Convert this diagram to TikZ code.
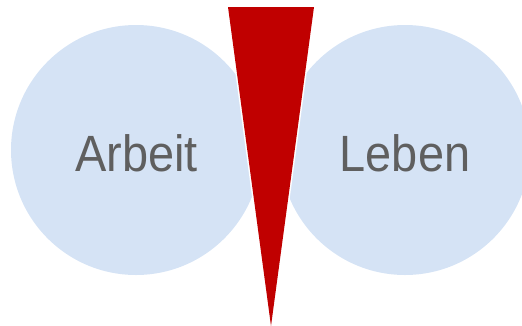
\documentclass[tikz,border=0pt]{standalone}
\usepackage{fontspec}
\setmainfont[FakeStretch=0.92]{Liberation Sans}
\definecolor{circblue}{HTML}{D5E3F5}
\definecolor{wedgered}{HTML}{C00000}
\definecolor{txtgray}{HTML}{5F5F5F}
\begin{document}
\begin{tikzpicture}[x=1pt,y=-1pt,
  bubble/.style={circle,fill=circblue,minimum size=250pt,inner sep=0pt,draw=none},
  label/.style={text=txtgray,font=\fontsize{51}{51}\selectfont,anchor=base,inner sep=0pt}]
\useasboundingbox (0,0) rectangle (522,325);
\clip (0,0) rectangle (522,325);
\node[bubble] (arbeit) at (136,150) {};
\node[bubble] (leben) at (405,150) {};
\node[label] (ta) at (136.5,171) {Arbeit};
\node[label] (tl) at (405,171) {Leben};
\coordinate (w1) at (228,7);
\coordinate (w2) at (314,7);
\coordinate (w3) at (271,326);
\draw[white,line width=3pt,line join=round] (w1) -- (w3) -- (w2);
\fill[wedgered] (w1) -- (w2) -- (w3) -- cycle;
\end{tikzpicture}
\end{document}
